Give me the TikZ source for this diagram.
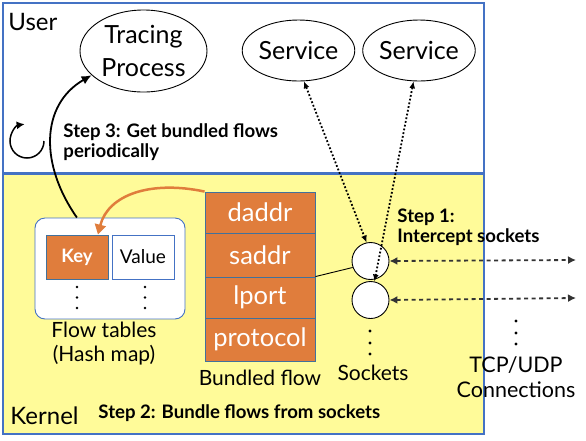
\documentclass[tikz,border=0pt]{standalone}
\usepackage{fontspec}
\setmainfont{Lato}
\usetikzlibrary{arrows.meta,shapes.geometric}
\definecolor{frameblue}{RGB}{68,114,196}
\definecolor{kernelyellow}{RGB}{255,251,153}
\definecolor{floworange}{RGB}{224,125,60}
\definecolor{flowline}{RGB}{65,113,156}
\definecolor{conngray}{RGB}{51,51,51}
\begin{document}
\begin{tikzpicture}[x=1pt,y=-1pt,line width=0.9pt,
  proc/.style={draw,ellipse,inner sep=0pt,align=center,font=\fontsize{25}{33}\selectfont},
  field/.style={draw=flowline,fill=floworange,text=white,minimum width=110pt,inner sep=0pt,font=\fontsize{25.5}{27}\selectfont},
  cell/.style={minimum width=62pt,minimum height=44pt,inner sep=0pt,font=\fontsize{19}{21}\selectfont},
  sock/.style={draw,circle,fill=white,minimum size=37pt,inner sep=0pt},
  steptext/.style={align=left,anchor=west,inner sep=0pt,font=\bfseries\fontsize{18.6}{20}\selectfont},
  lbl/.style={align=center,inner sep=0pt,font=\fontsize{21}{24}\selectfont},
  svcarr/.style={{Latex[length=7pt,width=6pt]}-{Latex[length=7pt,width=6pt]},dotted,line width=1.8pt},
  connarr/.style={{Latex[length=8pt,width=8pt]}-{Latex[length=8pt,width=8pt]},dash pattern=on 4pt off 3.5pt,line width=1.8pt,conngray}]
  \useasboundingbox (0,0) rectangle (586,440);
  % user and kernel space
  \draw[frameblue,fill=white,line width=1.5pt] (3,3) rectangle (484,173);
  \draw[frameblue,fill=kernelyellow,line width=1.5pt] (3,174) rectangle (484,434);
  \node[anchor=west,inner sep=0pt,font=\fontsize{24}{26}\selectfont] (user) at (8,22) {User};
  \node[anchor=west,inner sep=0pt,font=\fontsize{24}{26}\selectfont] (kernel) at (10,416) {Kernel};
  % processes
  \node[proc,minimum width=127pt,minimum height=82pt] (tp) at (143.5,51) {Tracing\\Process};
  \node[proc,minimum width=101pt,minimum height=61pt] (svcA) at (298.5,50.5) {Service};
  \node[proc,minimum width=102pt,minimum height=61pt] (svcB) at (419,50.5) {Service};
  % flow tables
  \draw[frameblue,fill=white,rounded corners=10pt] (35,218) rectangle (185,319);
  \node[inner sep=0pt,minimum width=150pt,minimum height=101pt] (ft) at (110,268.5) {};
  \node[cell,draw=flowline,fill=floworange,text=white,font=\bfseries\fontsize{18.5}{21}\selectfont] (key) at (77,257) {Key};
  \node[cell,draw=frameblue,fill=white] (val) at (143,257) {Value};
  \foreach \y in {287,297.5,308} {
    \fill (77,\y) circle (1.3pt);
    \fill (145,\y) circle (1.3pt);
  }
  \node[lbl] (ftlabel) at (104,344) {Flow tables\\(Hash map)};
  % bundled flow
  \node[field,minimum height=41pt] (daddr) at (260,212.5) {daddr};
  \node[field,minimum height=44pt] (saddr) at (260,255) {saddr};
  \node[field,minimum height=41pt] (lport) at (260,297.5) {lport};
  \node[field,minimum height=43pt] (protocol) at (260,339.5) {protocol};
  \node[lbl] (bflabel) at (260,378) {Bundled flow};
  % sockets
  \node[sock] (sockA) at (370.5,261) {};
  \node[sock] (sockB) at (370.5,300) {};
  \foreach \y in {331,343,354} \fill (370,\y) circle (1.7pt);
  \node[lbl] (socklabel) at (373,373) {Sockets};
  \draw (lport.north east) -- (sockA.200);
  % connections
  \coordinate (connA) at (576,260);
  \coordinate (connB) at (576,298);
  \draw[connarr] (sockA.east) -- (connA);
  \draw[connarr] (sockB.east) -- (connB);
  \foreach \y in {321,333,344} \fill (516,\y) circle (1.7pt);
  \node[lbl,font=\fontsize{21.5}{25}\selectfont] (connlabel) at (516,377) {TCP/UDP\\Connections};
  % steps
  \draw[svcarr] (svcA.-80) -- (sockA.102);
  \draw[svcarr] (svcB.-100) -- (sockB.78);
  \node[steptext] (stepA) at (397,227) {Step 1:\\Intercept sockets};
  \draw[-{Triangle[length=10pt,width=11pt]},floworange,line width=2.5pt]
    (daddr.north west) .. controls (150,180) and (108,195) .. (key.47);
  \node[steptext] (stepB) at (98,413) {Step 2: Bundle flows from sockets};
  \draw[-{Latex[length=10pt,width=9pt]},line width=1.8pt]
    (ft.123) .. controls (40,165) and (40,105) .. (tp.205);
  \draw[-{Latex[length=8pt,width=8pt]},line width=1.5pt] (44,141) arc (0:262:17);
  \node[steptext] (stepC) at (63,142) {Step 3: Get bundled flows\\periodically};
\end{tikzpicture}
\end{document}
